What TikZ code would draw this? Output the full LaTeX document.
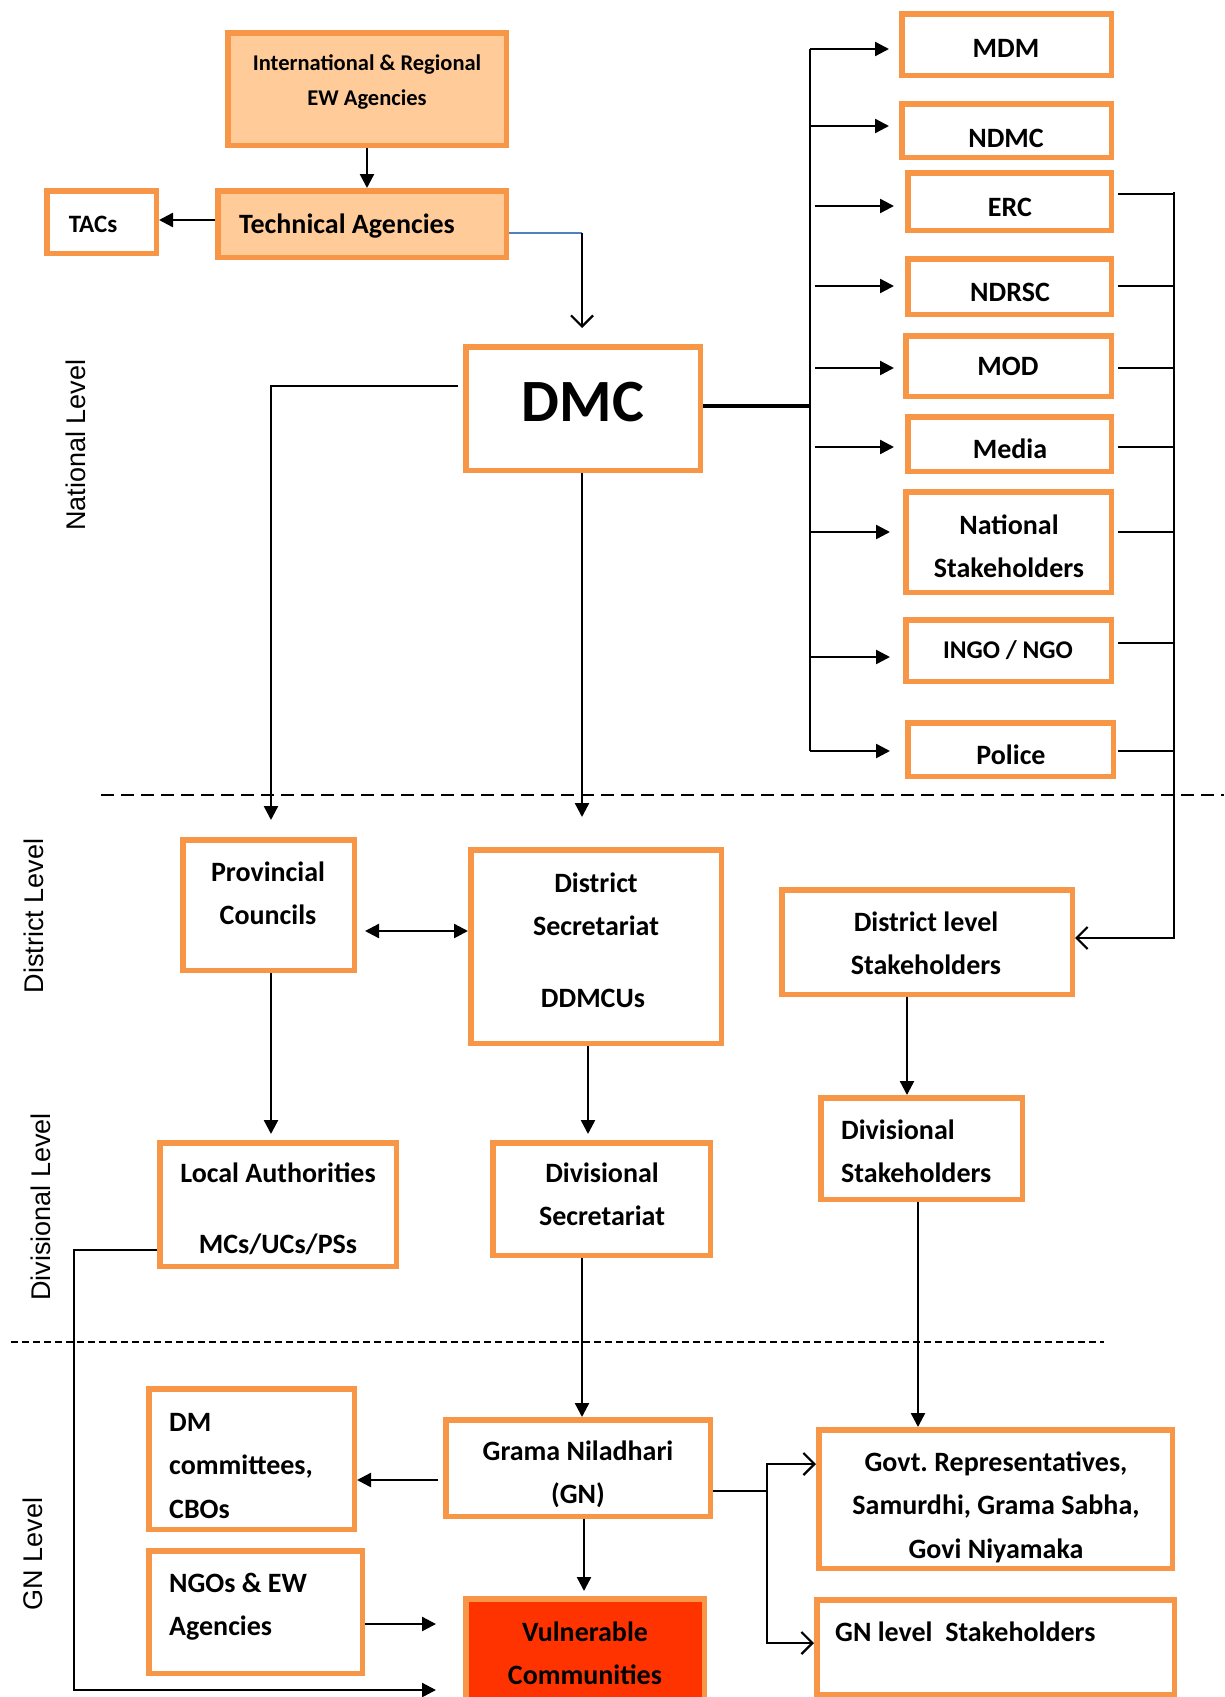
\documentclass[tikz,border=0pt]{standalone}
\usepackage{fontspec}
\setmainfont{Carlito}
\newfontfamily\arialfont{Liberation Sans}
\usetikzlibrary{arrows.meta,calc}
\frenchspacing
\definecolor{orng}{HTML}{F79646}
\definecolor{peach}{HTML}{FFCC99}
\definecolor{vulnred}{HTML}{FF3300}
\definecolor{bluel}{HTML}{4F81BD}
\newcommand\mybox[6][]{\node[box,#1,minimum width={#5-#3-5.5},minimum height={#6-#4-5.5}] (#2) at ({(#3+#5)/2},{(#4+#6)/2}) {};}
\begin{document}
\begin{tikzpicture}[x=1pt,y=-1pt,
  box/.style={draw=orng, line width=5.5pt, rectangle, inner sep=0pt},
  tx/.style={inner sep=0pt, font=\fontsize{#1}{#1}\selectfont\bfseries, text height=0.72*#1, text depth=0pt},
  tx/.default=28,
  conn/.style={line width=2.4pt},
  arr/.style={conn, -{Triangle[length=14pt,width=14pt]}},
  darr/.style={conn, {Triangle[length=14pt,width=14pt]}-{Triangle[length=14pt,width=14pt]}},
  oarr/.style={conn, -{Straight Barb[length=11pt,width=22pt,line width=2.2pt]}},
  lab/.style={font=\arialfont\fontsize{27}{32}\selectfont, rotate=90, inner sep=0pt},
  dashA/.style={line width=2.4pt, dash pattern=on 13pt off 7pt},
  dashB/.style={line width=2pt, dash pattern=on 7pt off 4pt}]
\useasboundingbox (0,0) rectangle (1224,1697);
\fill[white] (0,0) rectangle (1224,1697);

% ---------- boxes ----------
\mybox[fill=peach]{intl}{225}{30}{509}{148}
\mybox[fill=peach]{tech}{215}{188}{509}{260}
\mybox{tacs}{44}{188}{159}{256}
\mybox{dmc}{463}{344}{703}{473}
\mybox{mdm}{899}{11}{1114}{78}
\mybox{ndmc}{899}{101}{1114}{160}
\mybox{erc}{905}{170}{1114}{233}
\mybox{ndrsc}{905}{256}{1114}{317}
\mybox{mod}{903}{333}{1114}{399}
\mybox{media}{905}{414}{1114}{474}
\mybox{nat}{903}{489}{1114}{595}
\mybox{ingo}{903}{617}{1114}{684}
\mybox{police}{905}{720}{1116}{779}
\mybox{prov}{180}{837}{357}{973}
\mybox{dist}{468}{847}{724}{1046}
\mybox{dls}{779}{887}{1075}{997}
\mybox{la}{157}{1140}{399}{1269}
\mybox{divsec}{490}{1140}{713}{1258}
\mybox{divst}{818}{1095}{1025}{1202}
\mybox{dm}{146}{1386}{357}{1532}
\mybox{gn}{443}{1417}{713}{1519}
\mybox{govt}{816}{1427}{1175}{1571}
\mybox{ngo}{146}{1548}{365}{1676}
\mybox[fill=vulnred]{vuln}{463}{1596}{707}{1740}
\mybox{gnls}{814}{1597}{1177}{1697}

% ---------- texts ----------
\node[tx=22.5] (t-intl1) at (367,62) {International \& Regional};
\node[tx=22.5] (t-intl2) at (367,97) {EW Agencies};
\node[tx, anchor=west] (t-tech) at (239,223) {Technical Agencies};
\node[tx=25] (t-tacs) at (93,223) {TACs};
\node[tx=60] (t-dmc) at (583,400) {DMC};
\node[tx] (t-mdm) at (1006,47) {MDM};
\node[tx] (t-ndmc) at (1006,137) {NDMC};
\node[tx] (t-erc) at (1010,206) {ERC};
\node[tx] (t-ndrsc) at (1010,291) {NDRSC};
\node[tx] (t-mod) at (1008,365) {MOD};
\node[tx] (t-media) at (1010,448) {Media};
\node[tx] (t-nat1) at (1009,524) {National};
\node[tx] (t-nat2) at (1009,567) {Stakeholders};
\node[tx=25.5] (t-ingo) at (1008,649) {INGO / NGO};
\node[tx] (t-police) at (1011,754) {Police};
\node[tx] (t-prov1) at (268,871) {Provincial};
\node[tx] (t-prov2) at (268,914) {Councils};
\node[tx] (t-dist1) at (596,882) {District};
\node[tx] (t-dist2) at (596,925) {Secretariat};
\node[tx] (t-dist3) at (593,997) {DDMCUs};
\node[tx] (t-dls1) at (926,921) {District level};
\node[tx] (t-dls2) at (926,964) {Stakeholders};
\node[tx] (t-la1) at (278,1172) {Local Authorities};
\node[tx] (t-la2) at (278,1243) {MCs/UCs/PSs};
\node[tx] (t-ds1) at (602,1172) {Divisional};
\node[tx] (t-ds2) at (602,1215) {Secretariat};
\node[tx, anchor=west] (t-dvs1) at (841,1129) {Divisional};
\node[tx, anchor=west] (t-dvs2) at (841,1172) {Stakeholders};
\node[tx, anchor=west] (t-dm1) at (169,1421) {DM};
\node[tx, anchor=west] (t-dm2) at (169,1464) {committees,};
\node[tx, anchor=west] (t-dm3) at (169,1508) {CBOs};
\node[tx] (t-gn1) at (578,1450) {Grama Niladhari};
\node[tx] (t-gn2) at (578,1493) {(GN)};
\node[tx] (t-gv1) at (996,1461) {Govt. Representatives,};
\node[tx] (t-gv2) at (996,1504) {Samurdhi, Grama Sabha,};
\node[tx] (t-gv3) at (996,1548) {Govi Niyamaka};
\node[tx, anchor=west] (t-ngo1) at (169,1582) {NGOs \& EW};
\node[tx, anchor=west] (t-ngo2) at (169,1625) {Agencies};
\node[tx] (t-vul1) at (585,1631) {Vulnerable};
\node[tx] (t-vul2) at (585,1674) {Communities};
\node[tx, anchor=west] (t-gnls) at (835,1631) {GN level\ \ Stakeholders};

% ---------- level labels ----------
\node[lab] (l-nat) at (76,445) {National Level};
\node[lab] (l-dis) at (34,916) {District Level};
\node[lab] (l-div) at (41,1207) {Divisional Level};
\node[lab] (l-gn) at (33,1554) {GN Level};

% ---------- dashed separators ----------
\draw[dashA] (101,795) -- (1224,795);
\draw[dashB] (11,1342) -- (1104,1342);

% ---------- connectors ----------
\draw[arr] (intl.south) -- (intl.south |- tech.north);
\draw[arr] (tech.west |- 0,220) -- (tacs.east |- 0,220);
\coordinate (tb) at (582,233);
\coordinate (te) at (582,328);
\draw[bluel, line width=2pt] (tech.east |- tb) -- (tb);
\draw[oarr] (tb) -- (te);

\coordinate (pe) at (271,820);
\draw[arr] ($(dmc.west |- 0,386)+(-5,0)$) -| (pe);
\draw[arr] (dmc.south -| 582,0) -- (582,817);

\coordinate (busx) at (810,406);
\draw[line width=3.5pt] (dmc.east |- busx) -- (busx);
\draw[conn] (busx |- 0,49) -- (busx |- 0,751);
\draw[arr] (busx |- 0,49) -- ($(mdm.west|-0,49)+(-10,0)$);
\draw[arr] (busx |- 0,126) -- ($(ndmc.west|-0,126)+(-10,0)$);
\draw[arr] ($(busx |- 0,206)+(5,0)$) -- ($(erc.west|-0,206)+(-11,0)$);
\draw[arr] ($(busx |- 0,286)+(5,0)$) -- ($(ndrsc.west|-0,286)+(-11,0)$);
\draw[arr] ($(busx |- 0,368)+(5,0)$) -- ($(mod.west|-0,368)+(-9,0)$);
\draw[arr] ($(busx |- 0,447)+(5,0)$) -- ($(media.west|-0,447)+(-11,0)$);
\draw[arr] (busx |- 0,532) -- ($(nat.west|-0,532)+(-13,0)$);
\draw[arr] (busx |- 0,657) -- ($(ingo.west|-0,657)+(-13,0)$);
\draw[arr] (busx |- 0,751) -- ($(police.west|-0,751)+(-15,0)$);

\coordinate (rbus) at (1174,938);
\draw[conn] ($(erc.east|-0,194)+(4,0)$) -- (rbus |- 0,194);
\draw[conn] ($(ndrsc.east|-0,286)+(4,0)$) -- (rbus |- 0,286);
\draw[conn] ($(mod.east|-0,368)+(4,0)$) -- (rbus |- 0,368);
\draw[conn] ($(media.east|-0,447)+(4,0)$) -- (rbus |- 0,447);
\draw[conn] ($(nat.east|-0,532)+(4,0)$) -- (rbus |- 0,532);
\draw[conn] ($(ingo.east|-0,643)+(4,0)$) -- (rbus |- 0,643);
\draw[conn] ($(police.east|-0,751)+(2,0)$) -- (rbus |- 0,751);
\draw[oarr] (rbus |- 0,192) -- (rbus) -- (dls.east |- rbus);

\draw[darr] ($(prov.east|-0,931)+(8,0)$) -- (dist.west|-0,931);
\draw[arr] (prov.south -| 271,0) -- ($(la.north -| 271,0)+(0,-6)$);
\draw[arr] (dist.south -| 588,0) -- ($(divsec.north -| 588,0)+(0,-6)$);
\draw[arr] (dls.south -| 907,0) -- (divst.north -| 907,0);

\coordinate (lacorner) at (74,1690);
\draw[arr] (la.west |- 0,1250) -| (lacorner) -- ($(vuln.west |- lacorner)+(-27,0)$);
\draw[arr] (divsec.south -| 582,0) -- (gn.north -| 582,0);
\draw[arr] (divst.south -| 918,0) -- (govt.north -| 918,0);
\draw[arr] ($(gn.west|-0,1480)+(-5,0)$) -- (dm.east|-0,1480);
\draw[arr] (gn.south -| 584,0) -- ($(vuln.north -| 584,0)+(0,-5)$);
\draw[arr] (ngo.east|-0,1624) -- ($(vuln.west|-0,1624)+(-27,0)$);

\coordinate (gj) at (767,1491);
\draw[conn] (gn.east|-gj) -- (gj);
\draw[oarr] (gj) |- (govt.west|-0,1464);
\draw[oarr] (gj) |- (gnls.west|-0,1643);
\end{tikzpicture}
\end{document}
